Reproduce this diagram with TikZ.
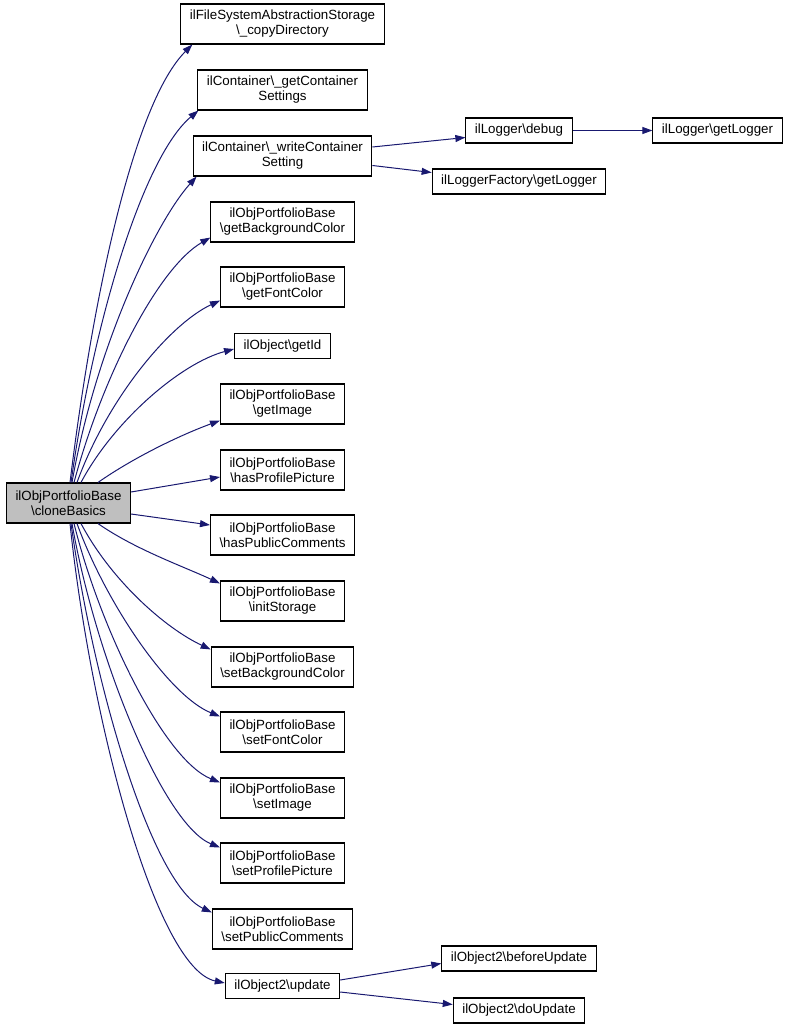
\documentclass[tikz,border=0pt]{standalone}
\usepackage{fontspec}
\setmainfont{Liberation Sans}
\usetikzlibrary{arrows.meta}
\definecolor{edgeblue}{HTML}{191970}
\definecolor{mainfill}{HTML}{BFBFBF}
\begin{document}
\begin{tikzpicture}[x=1pt,y=1pt,
  box/.style={draw=black,line width=1.1pt,fill=white,inner xsep=9pt,inner ysep=0pt,
    align=center,font=\fontsize{13.33}{15}\selectfont},
  one/.style={box,minimum height=25pt},
  two/.style={box,minimum height=40pt},
  edge/.style={draw=edgeblue,line width=1pt,-{Triangle[length=10pt,width=7pt]}}]
\useasboundingbox (0,0) rectangle (787,-1030);
\newcommand{\bs}{\textbackslash}
% main
\node[two,fill=mainfill] (main) at (68.5,-503) {ilObjPortfolioBase\\\bs cloneBasics};
% column
\node[two] (n1) at (282.5,-24) {ilFileSystemAbstractionStorage\\\bs\_copyDirectory};
\node[two] (n2) at (282.5,-90) {ilContainer\bs\_getContainer\\Settings};
\node[two] (n3) at (282.5,-156) {ilContainer\bs\_writeContainer\\Setting};
\node[two] (n4) at (282.5,-222) {ilObjPortfolioBase\\\bs getBackgroundColor};
\node[two] (n5) at (282.5,-287) {ilObjPortfolioBase\\\bs getFontColor};
\node[one] (n6) at (282.5,-346) {ilObject\bs getId};
\node[two] (n7) at (282.5,-404) {ilObjPortfolioBase\\\bs getImage};
\node[two] (n8) at (282.5,-470) {ilObjPortfolioBase\\\bs hasProfilePicture};
\node[two] (n9) at (282.5,-535) {ilObjPortfolioBase\\\bs hasPublicComments};
\node[two] (n10) at (282.5,-601) {ilObjPortfolioBase\\\bs initStorage};
\node[two] (n11) at (282.5,-667) {ilObjPortfolioBase\\\bs setBackgroundColor};
\node[two] (n12) at (282.5,-732) {ilObjPortfolioBase\\\bs setFontColor};
\node[two] (n13) at (282.5,-798) {ilObjPortfolioBase\\\bs setImage};
\node[two] (n14) at (282.5,-863) {ilObjPortfolioBase\\\bs setProfilePicture};
\node[two] (n15) at (282.5,-929) {ilObjPortfolioBase\\\bs setPublicComments};
\node[one] (n16) at (282.5,-986) {ilObject2\bs update};
% right side
\node[one] (debug) at (519,-130.5) {ilLogger\bs debug};
\node[one] (getlog) at (717.5,-130.5) {ilLogger\bs getLogger};
\node[one] (factory) at (519,-181.5) {ilLoggerFactory\bs getLogger};
\node[one] (before) at (519,-958.5) {ilObject2\bs beforeUpdate};
\node[one] (doupd) at (519,-1010.5) {ilObject2\bs doUpdate};
% edges upward
\draw[edge] ([xshift=1.5pt]main.north) .. controls +(83:200) and +(225:80) .. ([xshift=12pt]n1.south west);
\draw[edge] ([xshift=2.5pt]main.north) .. controls +(82:170) and +(220:70) .. ([xshift=1pt]n2.south west);
\draw[edge] ([xshift=3.5pt]main.north) .. controls +(80:140) and +(228:60) .. ([xshift=4pt]n3.south west);
\draw[edge] ([xshift=5.5pt]main.north) .. controls +(75:110) and +(210:60) .. ([yshift=5pt]n4.south west);
\draw[edge] ([xshift=8.5pt]main.north) .. controls +(70:90) and +(205:55) .. ([yshift=7pt]n5.south west);
\draw[edge] ([xshift=12.5pt]main.north) .. controls +(62:70) and +(195:55) .. ([yshift=-3pt]n6.west);
\draw[edge] ([xshift=29.5pt]main.north) .. controls +(35:45) and +(200:40) .. ([yshift=4pt]n7.south west);
\draw[edge] ([yshift=11pt]main.east) -- ([yshift=-7pt]n8.west);
\draw[edge] ([yshift=-11pt]main.east) -- ([yshift=10pt]n9.west);
% edges downward
\draw[edge] ([xshift=29.5pt]main.south) .. controls +(-35:45) and +(155:40) .. ([yshift=-3pt]n10.north west);
\draw[edge] ([xshift=12.5pt]main.south) .. controls +(-62:65) and +(155:50) .. ([yshift=-3pt]n11.north west);
\draw[edge] ([xshift=8.5pt]main.south) .. controls +(-70:85) and +(158:55) .. ([yshift=-5pt]n12.north west);
\draw[edge] ([xshift=5.5pt]main.south) .. controls +(-76:110) and +(158:60) .. ([yshift=-5pt]n13.north west);
\draw[edge] ([xshift=3.5pt]main.south) .. controls +(-80:140) and +(158:60) .. ([yshift=-5pt]n14.north west);
\draw[edge] ([xshift=2.5pt]main.south) .. controls +(-82:170) and +(155:65) .. ([yshift=-4pt]n15.north west);
\draw[edge] ([xshift=1.5pt]main.south) .. controls +(-84:200) and +(168:70) .. ([yshift=3pt]n16.west);
% right edges
\draw[edge] ([yshift=9pt]n3.east) -- ([yshift=-7pt]debug.west);
\draw[edge] ([yshift=-9.5pt]n3.east) -- ([yshift=9pt]factory.west);
\draw[edge] (debug) -- (getlog);
\draw[edge] ([yshift=6pt]n16.east) -- ([yshift=-5pt]before.west);
\draw[edge] ([yshift=-6pt]n16.east) -- ([yshift=6pt]doupd.west);
\end{tikzpicture}
\end{document}
